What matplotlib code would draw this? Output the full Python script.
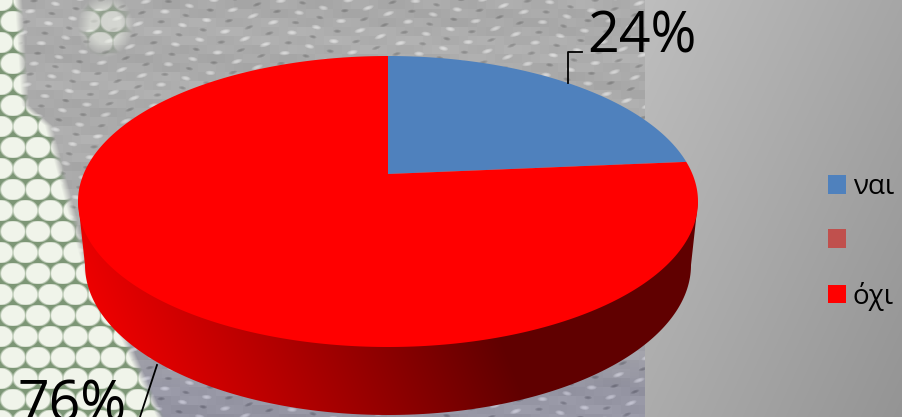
import numpy as np
import matplotlib
matplotlib.use("Agg")
import matplotlib.pyplot as plt
from matplotlib.patches import Patch, Polygon

categories = ["ναι", "", "όχι"]
shares = [23.6, 0.0, 76.4]
labels = ["24%", "", "76%"]
colors = ["#4f81bd", "#c0504d", "#ff0000"]

W, H = 903, 417
plt.rcParams["font.family"] = ["Open Sans", "DejaVu Sans"]

# ---------- decorative background (deterministic) ----------
yy, xx = np.mgrid[0:H, 0:W].astype(float)
img = np.zeros((H, W, 3))
# grey zone with blocky speckle
blockx = np.floor(xx / 9) * 9
blocky = np.floor(yy / 9) * 9
block = 7 * np.sin(blockx * 1.7 + blocky * 0.9) * np.cos(blockx * 0.31 - blocky * 1.3)
dash = np.sin(yy * 0.30 + 1.5 * np.sin(xx * 0.05)) * np.sin(xx * 0.14 + yy * 0.05)
speck = 42 * np.clip(dash - 0.72, 0, 1) / 0.28 - 34 * np.clip(-dash - 0.82, 0, 1) / 0.18
grey = 172 + block + speck
img[..., 0] = grey
img[..., 1] = grey
img[..., 2] = grey
# bluish lower part
t = np.clip((yy - 300) / 90, 0, 1)[..., None]
blue = np.stack([grey - 22, grey - 22, grey - 8], axis=-1)
img = img * (1 - t) + blue * t

# knit pattern
row = np.round(yy / 21.0)
offs = np.where(row % 2 == 0, 0.0, 12.5)
col = np.round((xx - offs) / 25.0)
cx = col * 25.0 + offs
cy = row * 21.0
d = np.sqrt(((xx - cx) / 13.5) ** 2 + ((yy - cy) / 11.5) ** 2)
white = np.array([240, 244, 234.0])
green = np.array([125, 150, 118.0])
w = np.clip((1.02 - d) / 0.18, 0, 1)[..., None]
knit = white * w + green * (1 - w)
boundary = np.interp(yy, [0, 105, 125, 200, 290, 340, 417], [18, 25, 48, 68, 92, 125, 160])
m = np.clip((boundary - xx) / 8 + 0.5, 0, 1)
m2 = np.clip(1 - np.sqrt(((xx - 105) / 28) ** 2 + ((yy - 25) / 32) ** 2), 0, 1) * 1.2
mask = np.clip(m + np.clip(m2, 0, 0.55), 0, 1)[..., None]
img = img * (1 - mask) + knit * mask

# right-hand gradient panel
panel = 190 - (xx - 645) / 258 * 24 - yy / 417 * 18
right = xx >= 645
for c in range(3):
    img[..., c][right] = panel[right]
img = np.clip(img, 0, 255).astype(np.uint8)

fig = plt.figure(figsize=(W / 100, H / 100), dpi=100)
ax = fig.add_axes([0, 0, 1, 1])
ax.set_xlim(0, W)
ax.set_ylim(H, 0)
ax.axis("off")
ax.imshow(img, extent=(0, W, H, 0), aspect="auto", zorder=0, interpolation="bilinear")

# ---------- perspective pie ----------
CX, APEX, TOP, BOTTOM, RX = 388.0, 174.0, 56.0, 347.0, 310.0
c_p = ((2 * APEX) - TOP - BOTTOM) / (TOP - BOTTOM)
a_p = TOP * (1 + c_p) - APEX
k_p = RX * np.sqrt(1 - c_p ** 2)


def project(theta):
    u, v = np.sin(theta), np.cos(theta)
    den = 1 + c_p * v
    return CX + k_p * u / den, (a_p * v + APEX) / den


# side wall
WALL_CY, WALL_RX, WALL_RY = 265.0, 303.0, 150.0
phi = np.linspace(0, np.pi, 200)
wx = np.r_[CX + RX, CX + WALL_RX * np.cos(phi), CX - RX]
wy = np.r_[201.5, WALL_CY + WALL_RY * np.sin(phi), 201.5]
wall = Polygon(np.c_[wx, wy], closed=True, transform=ax.transData, fc="none", ec="none")
ax.add_patch(wall)
g = np.clip((xx - 0.4 * (yy - 260) - 70) / 400, 0, 1)
red = 240 - g * (240 - 96)
wall_img = np.zeros((H, W, 3), dtype=np.uint8)
wall_img[..., 0] = red.astype(np.uint8)
im = ax.imshow(wall_img, extent=(0, W, H, 0), aspect="auto", zorder=2)
im.set_clip_path(wall)

# top face
frac = np.cumsum([0] + shares) / sum(shares)
for i, col_ in enumerate(colors):
    if shares[i] <= 0:
        continue
    th = np.linspace(frac[i] * 2 * np.pi, frac[i + 1] * 2 * np.pi, 300)
    px, py = project(th)
    ax.fill(np.r_[CX, px], np.r_[APEX, py], color=col_, lw=0, zorder=3)

# leader lines and labels
ax.plot([568, 568, 582], [83, 52, 52], color="black", lw=1.3, zorder=4)
ax.plot([157, 139], [365, 420], color="black", lw=1.3, zorder=4, clip_on=True)
ax.text(587.5, 52, labels[0], fontsize=40, color="black", ha="left", va="baseline", zorder=5)
ax.text(17.5, 421, labels[2], fontsize=40, color="black", ha="left", va="baseline", zorder=5)

# legend
handles = [Patch(fc=c, ec="none") for c in colors]
ax.legend(handles, categories, loc="upper left", bbox_to_anchor=(828 / W, 1 - 173 / H),
          bbox_transform=fig.transFigure, frameon=False, fontsize=20, borderpad=0, borderaxespad=0,
          handlelength=0.65, handleheight=0.65, handletextpad=0.25, labelspacing=0.95,
          labelcolor="black")

fig.savefig("out.png", dpi=100)
